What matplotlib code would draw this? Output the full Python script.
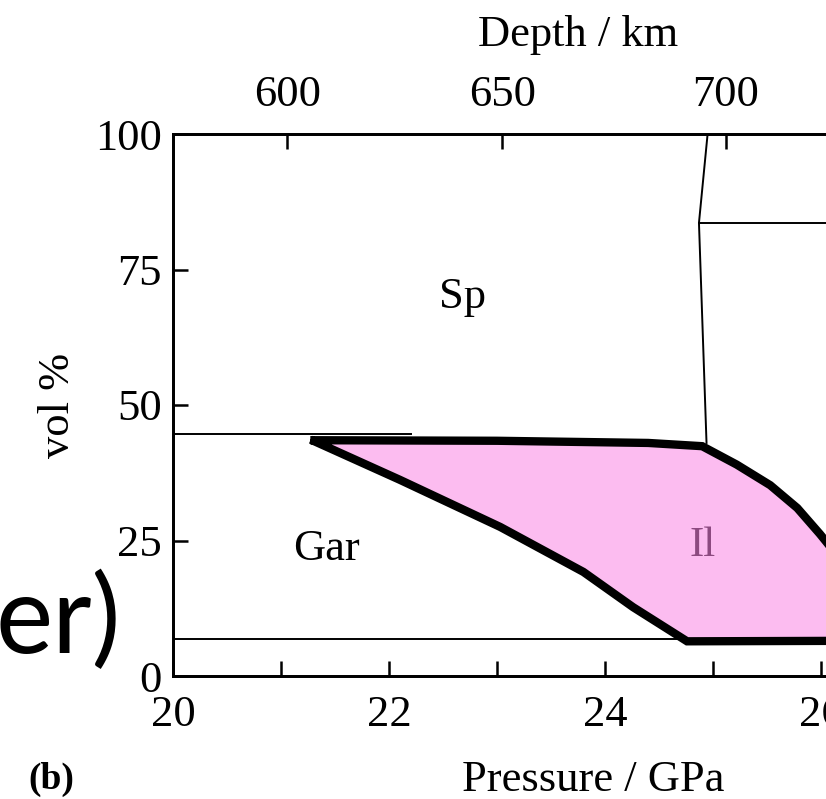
import numpy as np
import matplotlib.pyplot as plt

# Il (ilmenite/akimotoite) field outline, pressure in GPa / vol %
il_p = [21.31, 23.0, 24.4, 24.9, 25.22, 25.53, 25.78, 25.99, 26.1, 26.3, 26.45,
        24.76, 24.26, 23.80, 23.03, 22.10, 21.31]
il_v = [43.5, 43.4, 43.0, 42.4, 39.0, 35.2, 31.0, 26.2, 23.5, 15.0, 6.5,
        6.4, 12.7, 19.2, 27.5, 36.2, 43.3]

# thin phase boundaries
gar_top_p = [20.0, 22.2]
gar_top_v = [44.6, 44.6]
low_p = [20.0, 24.8]
low_v = [6.8, 6.8]
sp_bound_p = [24.95, 24.87, 24.94]
sp_bound_v = [100.0, 83.6, 43.0]
upper_p = [24.87, 28.0]
upper_v = [83.6, 83.6]

depth_km = [600, 650, 700]
depth_gpa = [21.06, 23.05, 25.12]

serif = 'Liberation Serif'

fig = plt.figure(figsize=(8.26, 7.99), dpi=100)
ax = fig.add_axes([173/826, 123/799, 756/826, 542/799])

ax.fill(il_p, il_v, color='#fcbcf0', ec='#8c4a80', lw=1, zorder=1)
ax.plot(il_p, il_v, color='black', lw=6, solid_joinstyle='miter', zorder=3)
ax.plot(gar_top_p, gar_top_v, color='black', lw=1.4, zorder=2)
ax.plot(low_p, low_v, color='black', lw=1.4, zorder=2)
ax.plot(sp_bound_p, sp_bound_v, color='black', lw=1.4, zorder=2)
ax.plot(upper_p, upper_v, color='black', lw=1.4, zorder=2)

ax.set_xlim(20, 27)
ax.set_ylim(0, 100)
ax.set_xticks(np.arange(20, 28, 1))
ax.set_xticklabels(['20', '', '22', '', '24', '', '26', ''])
ax.set_yticks([0, 25, 50, 75, 100])
ax.tick_params(direction='in', length=11, width=1.8, labelsize=32, pad=14)
ax.tick_params(axis='y', pad=8)
for lab in ax.get_xticklabels() + ax.get_yticklabels():
    lab.set_family(serif)
for s in ax.spines.values():
    s.set_linewidth(2)

top = ax.twiny()
top.set_xlim(ax.get_xlim())
top.set_xticks(depth_gpa)
top.set_xticklabels([str(d) for d in depth_km])
top.tick_params(direction='in', length=11, width=1.8, labelsize=32, pad=14)
for lab in top.get_xticklabels():
    lab.set_family(serif)
for s in top.spines.values():
    s.set_linewidth(2)

ax.text(22.68, 70, 'Sp', fontsize=32, family=serif, ha='center', va='center')
ax.text(21.42, 23.5, 'Gar', fontsize=32, family=serif, ha='center', va='center')
ax.text(24.9, 24.0, 'Il', fontsize=31, family=serif, color='#8c4a80',
        ha='center', va='center')

fig.text(578/826, 1 - 35/799, 'Depth / km', fontsize=32, family=serif,
         ha='center', va='center')
fig.text(593/826, 1 - 780/799, 'Pressure / GPa', fontsize=32, family=serif,
         ha='center', va='center')
fig.text(58/826, 1 - 405/799, 'vol %', fontsize=32, family=serif,
         rotation=90, ha='center', va='center')
fig.text(51/826, 1 - 779/799, '(b)', fontsize=27, family=serif,
         weight='bold', ha='center', va='center')
fig.text(121/826, 1 - 653/799, 'er)', fontsize=78, family='Lato',
         ha='right', va='baseline')

fig.savefig('out.png', dpi=100)
